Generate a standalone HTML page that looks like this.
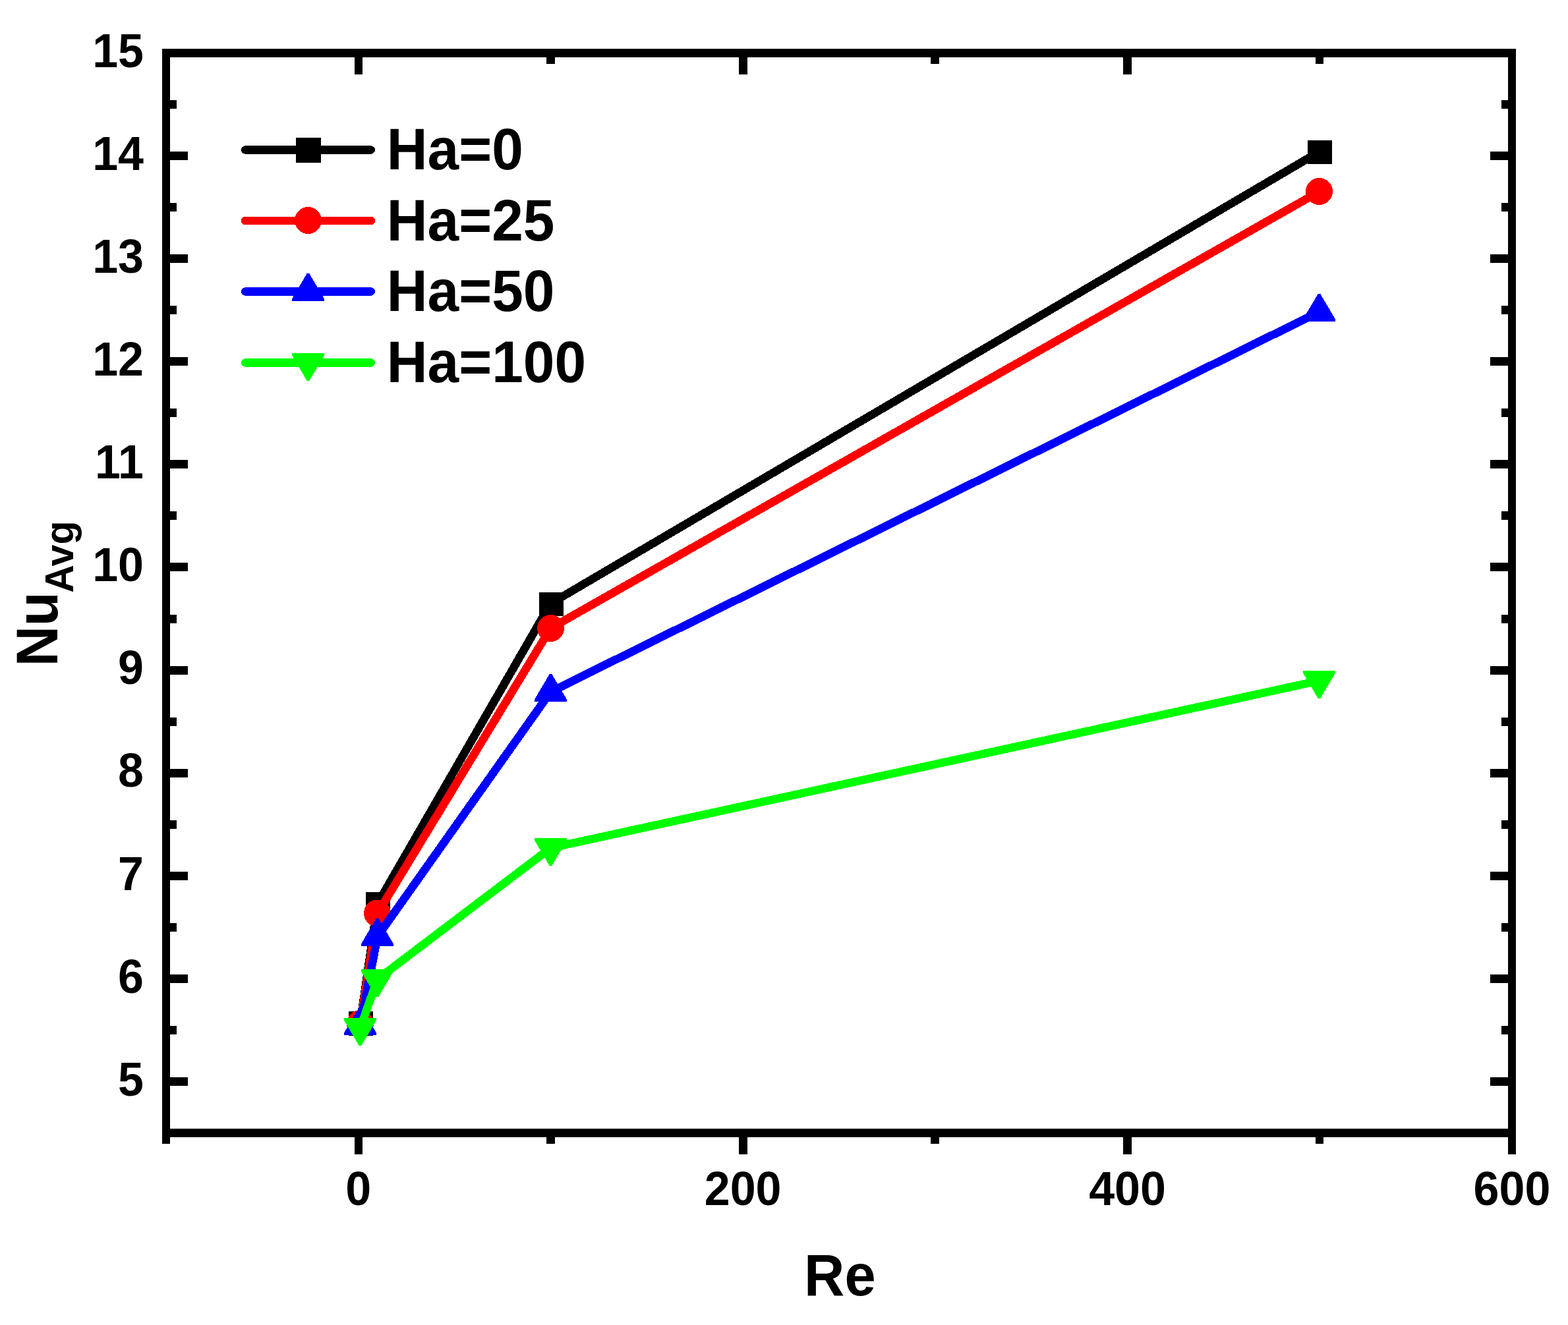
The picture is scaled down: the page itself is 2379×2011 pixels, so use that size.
<!DOCTYPE html>
<html lang="en">
<head>
<meta charset="utf-8">
<title>Average Nusselt number vs Reynolds number</title>
<style>
html,body{margin:0;padding:0;background:#fff;}
html,body{width:2379px;height:2011px;}
svg{display:block;}
text{font-family:"Liberation Sans",sans-serif;font-weight:700;fill:#000;}
.tk{font-size:70px;}
.lg{font-size:85.6px;}
.tt{font-size:85px;}
.sb{font-size:59px;}
</style>
</head>
<body>
<svg width="2379" height="2011" viewBox="0 0 2379 2011" shape-rendering="crispEdges">
<rect x="0" y="0" width="2379" height="2011" fill="#fff"/>
<g fill="#000">
<rect x="246" y="74" width="2054" height="13"/>
<rect x="246" y="1713" width="2054" height="13"/>
<rect x="246" y="74" width="12" height="1652"/>
<rect x="2288" y="74" width="12" height="1652"/>
<rect x="246" y="1726" width="12" height="10"/>
<rect x="246" y="87" width="12" height="10"/>
<rect x="538" y="1726" width="12" height="26"/>
<rect x="538" y="87" width="12" height="26"/>
<rect x="829" y="1726" width="13" height="10"/>
<rect x="829" y="87" width="13" height="10"/>
<rect x="1121" y="1726" width="13" height="26"/>
<rect x="1121" y="87" width="13" height="26"/>
<rect x="1412" y="1726" width="13" height="10"/>
<rect x="1412" y="87" width="13" height="10"/>
<rect x="1704" y="1726" width="13" height="26"/>
<rect x="1704" y="87" width="13" height="26"/>
<rect x="1996" y="1726" width="12" height="10"/>
<rect x="1996" y="87" width="12" height="10"/>
<rect x="2288" y="1726" width="12" height="26"/>
<rect x="2288" y="87" width="12" height="26"/>
<rect x="258" y="1713" width="10" height="13"/>
<rect x="2278" y="1713" width="10" height="13"/>
<rect x="258" y="1635" width="27" height="13"/>
<rect x="2261" y="1635" width="27" height="13"/>
<rect x="258" y="1557" width="10" height="13"/>
<rect x="2278" y="1557" width="10" height="13"/>
<rect x="258" y="1479" width="27" height="13"/>
<rect x="2261" y="1479" width="27" height="13"/>
<rect x="258" y="1401" width="10" height="13"/>
<rect x="2278" y="1401" width="10" height="13"/>
<rect x="258" y="1323" width="27" height="13"/>
<rect x="2261" y="1323" width="27" height="13"/>
<rect x="258" y="1245" width="10" height="13"/>
<rect x="2278" y="1245" width="10" height="13"/>
<rect x="258" y="1167" width="27" height="13"/>
<rect x="2261" y="1167" width="27" height="13"/>
<rect x="258" y="1089" width="10" height="13"/>
<rect x="2278" y="1089" width="10" height="13"/>
<rect x="258" y="1011" width="27" height="13"/>
<rect x="2261" y="1011" width="27" height="13"/>
<rect x="258" y="933" width="10" height="13"/>
<rect x="2278" y="933" width="10" height="13"/>
<rect x="258" y="854" width="27" height="13"/>
<rect x="2261" y="854" width="27" height="13"/>
<rect x="258" y="776" width="10" height="13"/>
<rect x="2278" y="776" width="10" height="13"/>
<rect x="258" y="698" width="27" height="13"/>
<rect x="2261" y="698" width="27" height="13"/>
<rect x="258" y="620" width="10" height="13"/>
<rect x="2278" y="620" width="10" height="13"/>
<rect x="258" y="542" width="27" height="13"/>
<rect x="2261" y="542" width="27" height="13"/>
<rect x="258" y="464" width="10" height="13"/>
<rect x="2278" y="464" width="10" height="13"/>
<rect x="258" y="386" width="27" height="13"/>
<rect x="2261" y="386" width="27" height="13"/>
<rect x="258" y="308" width="10" height="13"/>
<rect x="2278" y="308" width="10" height="13"/>
<rect x="258" y="230" width="27" height="13"/>
<rect x="2261" y="230" width="27" height="13"/>
<rect x="258" y="152" width="10" height="13"/>
<rect x="2278" y="152" width="10" height="13"/>
<rect x="258" y="74" width="27" height="13"/>
<rect x="2261" y="74" width="27" height="13"/>
</g>
<g>
<text class="tk" transform="translate(218.00,1662.70) scale(1,1.04)" x="0" y="0" text-anchor="end">5</text>
<text class="tk" transform="translate(218.00,1506.60) scale(1,1.04)" x="0" y="0" text-anchor="end">6</text>
<text class="tk" transform="translate(218.00,1350.50) scale(1,1.04)" x="0" y="0" text-anchor="end">7</text>
<text class="tk" transform="translate(218.00,1194.40) scale(1,1.04)" x="0" y="0" text-anchor="end">8</text>
<text class="tk" transform="translate(218.00,1038.30) scale(1,1.04)" x="0" y="0" text-anchor="end">9</text>
<text class="tk" transform="translate(218.00,882.20) scale(1,1.04)" x="0" y="0" text-anchor="end">10</text>
<text class="tk" transform="translate(218.00,726.10) scale(1,1.04)" x="0" y="0" text-anchor="end">11</text>
<text class="tk" transform="translate(218.00,570.00) scale(1,1.04)" x="0" y="0" text-anchor="end">12</text>
<text class="tk" transform="translate(218.00,413.90) scale(1,1.04)" x="0" y="0" text-anchor="end">13</text>
<text class="tk" transform="translate(218.00,257.80) scale(1,1.04)" x="0" y="0" text-anchor="end">14</text>
<text class="tk" transform="translate(218.00,101.70) scale(1,1.04)" x="0" y="0" text-anchor="end">15</text>
<text class="tk" transform="translate(543.71,1829.00) scale(1,1.04)" x="0" y="0" text-anchor="middle">0</text>
<text class="tk" transform="translate(1127.14,1829.00) scale(1,1.04)" x="0" y="0" text-anchor="middle">200</text>
<text class="tk" transform="translate(1710.57,1829.00) scale(1,1.04)" x="0" y="0" text-anchor="middle">400</text>
<text class="tk" transform="translate(2294.00,1829.00) scale(1,1.04)" x="0" y="0" text-anchor="middle">600</text>
</g>
<text class="tt" transform="translate(1274.40,1966.00) scale(1,1.04)" x="0" y="0" text-anchor="middle">Re</text>
<text class="tt" transform="translate(87.30,1011.60) rotate(-90) scale(1,1.04)" x="0" y="0" text-anchor="start">Nu<tspan class="sb" dx="-1.5" dy="22.79">Avg</tspan></text>
<g>
<polyline points="546.6,1552.5 572.9,1371.5 835.4,916 2002.3,230" fill="none" stroke="#000" stroke-width="12.5" stroke-linejoin="round" stroke-linecap="round"/>
<rect x="529" y="1535" width="37" height="37" fill="#000"/>
<rect x="555" y="1354" width="37" height="37" fill="#000"/>
<rect x="818" y="899" width="37" height="36" fill="#000"/>
<rect x="1984" y="213" width="37" height="36" fill="#000"/>
</g>
<g>
<polyline points="546.6,1553.5 572.9,1386 835.4,953.5 2002.3,290.5" fill="none" stroke="#f00" stroke-width="12.5" stroke-linejoin="round" stroke-linecap="round"/>
<circle cx="546.5" cy="1553.5" r="20.5" fill="#f00"/>
<circle cx="572.5" cy="1386" r="20.5" fill="#f00"/>
<circle cx="835.5" cy="953.5" r="20.5" fill="#f00"/>
<circle cx="2001.5" cy="290.5" r="20.5" fill="#f00"/>
</g>
<g>
<polyline points="546.6,1556 572.9,1421 835.4,1050 2002.3,473" fill="none" stroke="#00f" stroke-width="12.5" stroke-linejoin="round" stroke-linecap="round"/>
<polygon points="544.75,1529 548.25,1529 571,1567.5 571,1571 522,1571 522,1567.5" fill="#00f"/>
<polygon points="570.75,1394 574.25,1394 597,1432.5 597,1436 548,1436 548,1432.5" fill="#00f"/>
<polygon points="833.75,1023 837.25,1023 860,1061.5 860,1065 811,1065 811,1061.5" fill="#00f"/>
<polygon points="1999.75,446 2003.25,446 2026,484.5 2026,488 1977,488 1977,484.5" fill="#00f"/>
</g>
<g>
<polyline points="546.6,1560 572.9,1486 835.4,1287 2002.3,1033" fill="none" stroke="#0f0" stroke-width="12.5" stroke-linejoin="round" stroke-linecap="round"/>
<polygon points="522,1545 571,1545 571,1548.5 548.25,1587 544.75,1587 522,1548.5" fill="#0f0"/>
<polygon points="548,1471 597,1471 597,1474.5 574.25,1513 570.75,1513 548,1474.5" fill="#0f0"/>
<polygon points="811,1272 860,1272 860,1275.5 837.25,1314 833.75,1314 811,1275.5" fill="#0f0"/>
<polygon points="1977,1018 2026,1018 2026,1021.5 2003.25,1060 1999.75,1060 1977,1021.5" fill="#0f0"/>
</g>
<g>
<line x1="372.2" y1="227.5" x2="562.8" y2="227.5" stroke="#000" stroke-width="12.5" stroke-linecap="round"/>
<line x1="372.2" y1="335" x2="562.8" y2="335" stroke="#f00" stroke-width="12.5" stroke-linecap="round"/>
<line x1="372.2" y1="442.5" x2="562.8" y2="442.5" stroke="#00f" stroke-width="12.5" stroke-linecap="round"/>
<line x1="372.2" y1="550.5" x2="562.8" y2="550.5" stroke="#0f0" stroke-width="12.5" stroke-linecap="round"/>
<rect x="449" y="209" width="38" height="38" fill="#000"/>
<circle cx="467.5" cy="334.5" r="20.5" fill="#f00"/>
<polygon points="465.75,415 469.25,415 492,453.5 492,457 443,457 443,453.5" fill="#00f"/>
<polygon points="443,536 492,536 492,539.5 469.25,578 465.75,578 443,539.5" fill="#0f0"/>
<text class="lg" transform="translate(586.80,257.20) scale(1,1.04)" x="0" y="0" text-anchor="start">Ha=0</text>
<text class="lg" transform="translate(586.80,364.60) scale(1,1.04)" x="0" y="0" text-anchor="start">Ha=25</text>
<text class="lg" transform="translate(586.80,472.40) scale(1,1.04)" x="0" y="0" text-anchor="start">Ha=50</text>
<text class="lg" transform="translate(586.80,580.30) scale(1,1.04)" x="0" y="0" text-anchor="start">Ha=100</text>
</g>
</svg>
</body>
</html>
